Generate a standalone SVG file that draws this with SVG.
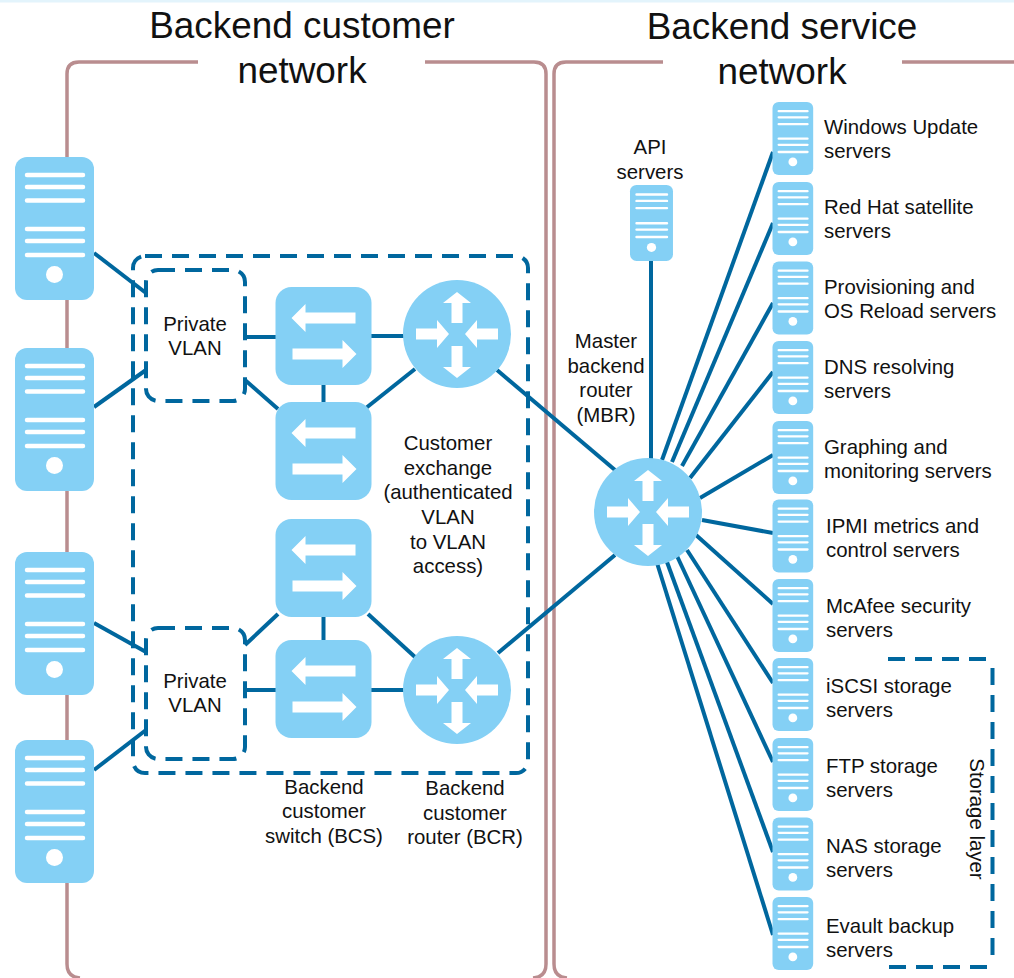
<svg xmlns="http://www.w3.org/2000/svg" xmlns:xlink="http://www.w3.org/1999/xlink" width="1014" height="978" viewBox="0 0 1014 978">
<style>
text{font-family:"Liberation Sans",Arial,sans-serif;fill:#111;font-size:20.4px}
.t{font-size:36.9px;text-anchor:middle}
.m{text-anchor:middle}
.panel{fill:none;stroke:#b98d8f;stroke-width:3.5}
.dash{fill:none;stroke:#00679e;stroke-width:4;stroke-dasharray:17 10}
.conn line{stroke:#00679e;stroke-width:4}
.b{fill:#84d0f5}
.w{fill:#fff}
.bar{stroke:#fff;stroke-width:4.5;stroke-linecap:round}
</style>
<defs>
<g id="srv">
<rect class="b" width="79" height="143" rx="12"/>
<path class="bar" d="M12 18H68M12 30H68M12 43.5H68M12 72H68M12 84H68M12 98H68"/>
<circle class="w" cx="39.500" cy="117.500" r="8.500"/>
</g>
<g id="sw">
<rect class="b" width="96" height="98" rx="16"/>
<path class="w" d="M16 31L30 17V25.500H80V36.500H30V45Z"/>
<path class="w" d="M81 67L67 53V61.500H17V72.500H67V81Z"/>
</g>
<g id="rt">
<circle class="b" r="54"/>
<path class="w" d="M0 -42L14 -31H5.500V-11H-5.500V-31H-14Z"/>
<path class="w" d="M0 44L14 33H5.500V12H-5.500V33H-14Z"/>
<path class="w" d="M-8 0L-20 14V5.500H-41V-5.500H-20V-14Z"/>
<path class="w" d="M8 0L20 14V5.500H41V-5.500H20V-14Z"/>
</g>
</defs>
<rect width="1014" height="978" fill="#fff"/>
<rect width="1014" height="2.500" fill="#e3f4fc"/>
<g id="panels">
<path class="panel" d="M198 62H79Q67 62 67 74V964Q67 977 80 978M425 62H534Q546 62 546 74V964Q546 977 533 978"/>
<path class="panel" d="M663 62H566Q554 62 554 74V964Q554 977 567 978M902 62H1014"/>
</g>
<g id="dashed-areas">
<rect class="dash" x="133" y="256" width="395" height="517" rx="12"/>
<rect class="dash" x="146" y="270" width="99" height="131" rx="12"/>
<rect class="dash" x="146" y="628" width="99" height="131" rx="12"/>
<path class="dash" d="M888 659H988M992.500 668V958M889 967H988"/>
</g>
<g id="connectors" class="conn">
<line x1="94" y1="253" x2="146" y2="293"/>
<line x1="94" y1="407" x2="146" y2="370"/>
<line x1="94" y1="623" x2="146" y2="652"/>
<line x1="94" y1="770" x2="146" y2="730"/>
<line x1="245" y1="337" x2="276" y2="337"/>
<line x1="245" y1="380" x2="278" y2="409"/>
<line x1="370" y1="336" x2="404" y2="336"/>
<line x1="366" y1="408" x2="415" y2="369"/>
<line x1="323.500" y1="384" x2="323.500" y2="403"/>
<line x1="323.500" y1="616" x2="323.500" y2="641"/>
<line x1="245" y1="645" x2="278" y2="614"/>
<line x1="245" y1="690" x2="276" y2="690"/>
<line x1="368" y1="614" x2="415" y2="657"/>
<line x1="370" y1="690" x2="404" y2="690"/>
<line x1="497" y1="370" x2="615" y2="470"/>
<line x1="498" y1="653" x2="615" y2="555"/>
<line x1="651" y1="260" x2="651" y2="462"/>
<line x1="773" y1="152" x2="662" y2="460"/>
<line x1="773" y1="223" x2="672" y2="462"/>
<line x1="773" y1="303" x2="682" y2="466"/>
<line x1="773" y1="372" x2="690" y2="478"/>
<line x1="773" y1="455" x2="700" y2="498"/>
<line x1="773" y1="533" x2="702" y2="520"/>
<line x1="773" y1="604" x2="696" y2="535"/>
<line x1="773" y1="683" x2="687" y2="550"/>
<line x1="773" y1="762" x2="677" y2="556"/>
<line x1="773" y1="852" x2="667" y2="562"/>
<line x1="773" y1="935" x2="657" y2="563"/>
</g>
<g id="customer-servers">
<use id="cs1" href="#srv" x="15" y="157"/>
<use id="cs2" href="#srv" x="15" y="348"/>
<use id="cs3" href="#srv" x="15" y="552"/>
<use id="cs4" href="#srv" x="15" y="740"/>
</g>
<g id="bcs-switches">
<use id="sw1" href="#sw" x="275.500" y="287"/>
<use id="sw2" href="#sw" x="275.500" y="402"/>
<use id="sw3" href="#sw" x="275.500" y="519"/>
<use id="sw4" href="#sw" x="275.500" y="640"/>
</g>
<g id="routers">
<use id="bcr1" href="#rt" x="457" y="334"/>
<use id="bcr2" href="#rt" x="457" y="690"/>
<use id="mbr" href="#rt" x="648" y="512"/>
</g>
<g id="service-servers">
<use id="api" href="#srv" transform="translate(630 185) scale(.544 .531)"/>
<use id="s1" href="#srv" transform="translate(772.500 102) scale(.515 .51)"/>
<use id="s2" href="#srv" transform="translate(772.500 182) scale(.515 .51)"/>
<use id="s3" href="#srv" transform="translate(772.500 261.500) scale(.515 .51)"/>
<use id="s4" href="#srv" transform="translate(772.500 341) scale(.515 .51)"/>
<use id="s5" href="#srv" transform="translate(772.500 421) scale(.515 .51)"/>
<use id="s6" href="#srv" transform="translate(772.500 499.500) scale(.515 .51)"/>
<use id="s7" href="#srv" transform="translate(772.500 579) scale(.515 .51)"/>
<use id="s8" href="#srv" transform="translate(772.500 658) scale(.515 .51)"/>
<use id="s9" href="#srv" transform="translate(772.500 738) scale(.515 .51)"/>
<use id="s10" href="#srv" transform="translate(772.500 817.500) scale(.515 .51)"/>
<use id="s11" href="#srv" transform="translate(772.500 897) scale(.515 .51)"/>
</g>
<g id="labels">
<text class="t" x="302" y="38">Backend customer</text>
<text class="t" x="302" y="83">network</text>
<text class="t" x="782" y="39">Backend service</text>
<text class="t" x="782" y="84">network</text>
<text class="m" x="650" y="154">API</text>
<text class="m" x="650" y="179">servers</text>
<text class="m" x="606" y="348">Master</text>
<text class="m" x="606" y="373">backend</text>
<text class="m" x="606" y="397">router</text>
<text class="m" x="606" y="422">(MBR)</text>
<text class="m" x="195" y="331">Private</text>
<text class="m" x="195" y="355">VLAN</text>
<text class="m" x="195" y="688">Private</text>
<text class="m" x="195" y="712">VLAN</text>
<text class="m" x="448" y="450">Customer</text>
<text class="m" x="448" y="475">exchange</text>
<text class="m" x="448" y="499">(authenticated</text>
<text class="m" x="448" y="524">VLAN</text>
<text class="m" x="448" y="549">to VLAN</text>
<text class="m" x="448" y="573">access)</text>
<text class="m" x="324" y="794">Backend</text>
<text class="m" x="324" y="818">customer</text>
<text class="m" x="324" y="843">switch (BCS)</text>
<text class="m" x="465" y="795">Backend</text>
<text class="m" x="465" y="820">customer</text>
<text class="m" x="465" y="844">router (BCR)</text>
<text x="824" y="134">Windows Update</text>
<text x="824" y="158">servers</text>
<text x="824" y="214">Red Hat satellite</text>
<text x="824" y="238">servers</text>
<text x="824" y="294">Provisioning and</text>
<text x="824" y="318">OS Reload servers</text>
<text x="824" y="374">DNS resolving</text>
<text x="824" y="398">servers</text>
<text x="824" y="454">Graphing and</text>
<text x="824" y="478">monitoring servers</text>
<text x="826" y="533">IPMI metrics and</text>
<text x="826" y="557">control servers</text>
<text x="826" y="613">McAfee security</text>
<text x="826" y="637">servers</text>
<text x="826" y="693">iSCSI storage</text>
<text x="826" y="717">servers</text>
<text x="826" y="773">FTP storage</text>
<text x="826" y="797">servers</text>
<text x="826" y="853">NAS storage</text>
<text x="826" y="877">servers</text>
<text x="826" y="933">Evault backup</text>
<text x="826" y="957">servers</text>
<text class="m" transform="translate(970 819) rotate(90)">Storage layer</text>
</g>
</svg>
